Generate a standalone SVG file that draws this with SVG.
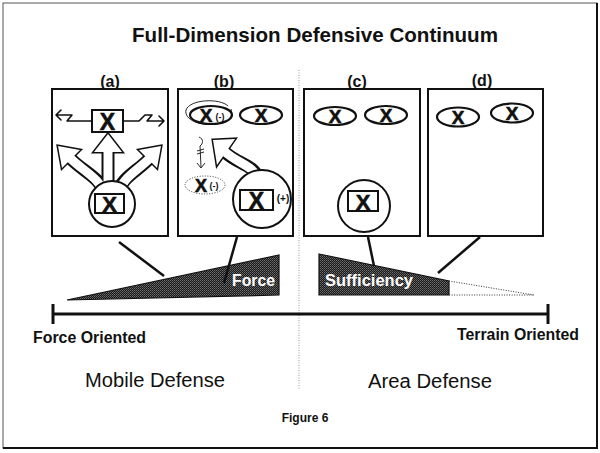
<svg xmlns="http://www.w3.org/2000/svg" width="600" height="453" viewBox="0 0 600 453">
<style>
text{font-family:"Liberation Sans",Arial,sans-serif;fill:#111}
.b{font-weight:bold}
.box{fill:#fff;stroke:#111;stroke-width:2}
.ell{fill:#fff;stroke:#111;stroke-width:2.2}
.thin{fill:none;stroke:#111;stroke-width:1.6;stroke-linejoin:round;stroke-linecap:round}
.conn{stroke:#111;stroke-width:2.5;fill:none}
.sb{fill:none;stroke:#111;stroke-width:13}
.sw{fill:none;stroke:#fff;stroke-width:9}
.hb{fill:#111;stroke:#111;stroke-width:3;stroke-linejoin:miter}
.hw{fill:#fff}
.bx{font-weight:bold;text-anchor:middle;stroke:#111;stroke-width:0.6}
.lbl{font-weight:bold;text-anchor:middle;font-size:15}
</style>
<defs>
<pattern id="stip" width="2" height="2" patternUnits="userSpaceOnUse">
<rect width="2" height="2" fill="#1a1a1a"/>
<rect width="1" height="1" fill="#6e6e6e"/>
<rect x="1" y="1" width="1" height="1" fill="#555"/>
</pattern>
</defs>
<rect width="600" height="453" fill="#fff"/>
<rect x="3" y="3" width="594" height="445" fill="none" stroke="#555" stroke-width="1"/>
<path d="M3 448H597V3" fill="none" stroke="#111" stroke-width="2"/>
<text class="b" x="315" y="42" text-anchor="middle" font-size="21" textLength="366" lengthAdjust="spacingAndGlyphs">Full-Dimension Defensive Continuum</text>
<line x1="299" y1="70" x2="299" y2="390" stroke="#999" stroke-width="1" stroke-dasharray="1 1.5"/>

<g id="panel-a">
<text class="lbl" x="110" y="87">(a)</text>
<rect class="box" x="52" y="89" width="116" height="147"/>
<rect class="box" x="92" y="110" width="31" height="22"/>
<text class="bx" x="107.5" y="130" font-size="23">X</text>
<path class="thin" d="M92 121H67L72 115H56M61 110L56 115L61 120"/>
<path class="thin" d="M123 121H139L145 115H152L147 121H164M159 116L164 121L159 126"/>
<path class="sb" d="M104 192C100 178 84 172 71 159"/>
<path class="sb" d="M108 192V152"/>
<path class="sb" d="M118 192C122 178 136 172 148 160"/>
<polygon class="hb" points="58,146 80,150 62,168"/>
<polygon class="hb" points="108,134 94,152 122,152"/>
<polygon class="hb" points="161,146 139,150 157,168"/>
<path class="sw" d="M104 194C100 178 84 172 69 157"/>
<path class="sw" d="M108 194V150"/>
<path class="sw" d="M118 194C122 178 136 172 150 158"/>
<polygon class="hw" points="58,146 80,150 62,168"/>
<polygon class="hw" points="108,134 94,152 122,152"/>
<polygon class="hw" points="161,146 139,150 157,168"/>
<circle class="box" cx="112" cy="204" r="23"/>
<rect class="box" x="95" y="194" width="29" height="19"/>
<text class="bx" x="109.5" y="212" font-size="22">X</text>
</g>

<g id="panel-b">
<text class="lbl" x="224" y="87">(b)</text>
<rect class="box" x="178" y="89" width="115" height="147"/>
<ellipse class="ell" cx="211" cy="115" rx="21" ry="9"/>
<path d="M228 106C220 98 190 99 186 110C184 120 200 126 216 124C226 123 234 118 231 109" fill="none" stroke="#111" stroke-width="0.9"/>
<text class="bx" x="206" y="122" font-size="19">X</text>
<text class="b" x="220" y="120" font-size="9" text-anchor="middle">(-)</text>
<ellipse class="ell" cx="261" cy="115" rx="21" ry="9"/>
<text class="bx" x="261" y="122" font-size="19">X</text>
<path d="M199 137C204 139 203 144 200 146L201 167M197 163L201 168L205 163M197 151L204 149M197 154L204 152" fill="none" stroke="#111" stroke-width="0.9"/>
<ellipse cx="205" cy="185" rx="20" ry="9" fill="none" stroke="#333" stroke-width="1" stroke-dasharray="1 1.6"/>
<text class="bx" x="201" y="192" font-size="18">X</text>
<text class="b" x="214" y="189" font-size="9" text-anchor="middle">(-)</text>
<path class="sb" d="M258 178C254 165 238 164 226 153"/>
<polygon class="hb" points="213,140 235,139 217,165"/>
<path class="sw" d="M258 180C254 165 238 164 224 151"/>
<polygon class="hw" points="213,140 235,139 217,165"/>
<circle class="box" cx="262" cy="199" r="29"/>
<rect class="box" x="240" y="190" width="33" height="20"/>
<text class="bx" x="256.5" y="209" font-size="23">X</text>
<text class="b" x="283" y="202" font-size="10" text-anchor="middle">(+)</text>
</g>

<g id="panel-c">
<text class="lbl" x="357" y="87">(c)</text>
<rect class="box" x="304" y="89" width="116" height="147"/>
<ellipse class="ell" cx="335" cy="116" rx="21" ry="9"/>
<text class="bx" x="335" y="123" font-size="19">X</text>
<ellipse class="ell" cx="386" cy="115" rx="21" ry="9"/>
<text class="bx" x="386" y="122" font-size="19">X</text>
<circle class="box" cx="364" cy="206" r="26"/>
<rect class="box" x="348" y="191" width="30" height="20"/>
<text class="bx" x="363" y="209.5" font-size="22">X</text>
</g>

<g id="panel-d">
<text class="lbl" x="482" y="86">(d)</text>
<rect class="box" x="428" y="89" width="115" height="147"/>
<ellipse class="ell" cx="458" cy="117" rx="21" ry="9.5"/>
<text class="bx" x="458" y="124" font-size="19">X</text>
<ellipse class="ell" cx="512" cy="113" rx="21" ry="9.5"/>
<text class="bx" x="512" y="120" font-size="19">X</text>
</g>

<g id="force">
<polygon points="67,300 279,255 279,295" fill="url(#stip)" stroke="#111" stroke-width="1.2"/>
<text class="b" x="232" y="286" font-size="16" style="fill:#fff" textLength="43" lengthAdjust="spacingAndGlyphs">Force</text>
</g>
<g id="sufficiency">
<polygon points="319,254 449,281 449,295 319,295" fill="url(#stip)" stroke="#111" stroke-width="1.2"/>
<path d="M449 281L534 295H449" fill="none" stroke="#333" stroke-width="1" stroke-dasharray="1 1.5"/>
<text class="b" x="325" y="286" font-size="16" style="fill:#fff" textLength="88" lengthAdjust="spacingAndGlyphs">Sufficiency</text>
</g>

<g id="connectors">
<line class="conn" x1="119" y1="242" x2="164" y2="276"/>
<line class="conn" x1="237" y1="237" x2="224" y2="283"/>
<line class="conn" x1="368" y1="237" x2="374" y2="266"/>
<line class="conn" x1="480" y1="237" x2="438" y2="273"/>
</g>

<g id="axis">
<path d="M53 314H548M53 304V324M548 304V324" fill="none" stroke="#111" stroke-width="3"/>
<text class="b" x="33" y="343" font-size="16" textLength="113" lengthAdjust="spacingAndGlyphs">Force Oriented</text>
<text class="b" x="457" y="340" font-size="16" textLength="122" lengthAdjust="spacingAndGlyphs">Terrain Oriented</text>
</g>
<text x="85" y="387" font-size="20" textLength="140" lengthAdjust="spacingAndGlyphs">Mobile Defense</text>
<text x="368" y="388" font-size="20" textLength="124" lengthAdjust="spacingAndGlyphs">Area Defense</text>
<text class="b" x="305" y="422" font-size="12" text-anchor="middle">Figure 6</text>
</svg>
